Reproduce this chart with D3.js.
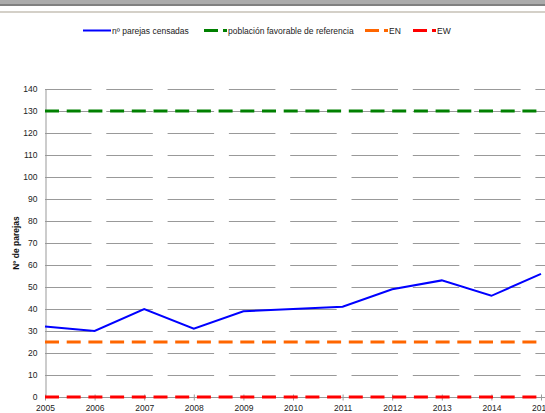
<!DOCTYPE html>
<html>
<head>
<meta charset="utf-8">
<script src="https://cdn.jsdelivr.net/npm/d3@7"></script>
<style>
  body { margin: 0; background: #fff; }
  svg { display: block; font-family: "Liberation Sans", Arial, sans-serif; }
</style>
</head>
<body>
<svg id="chart" width="545" height="413"></svg>
<script>
const years = [2005, 2006, 2007, 2008, 2009, 2010, 2011, 2012, 2013, 2014, 2015];
const parejas = [32, 30, 40, 31, 39, 40, 41, 49, 53, 46, 56];
const refLevels = [
  { name: 'población favorable de referencia', value: 130, color: '#008000' },
  { name: 'EN', value: 25, color: '#ff6600' },
  { name: 'EW', value: 0, color: '#ff0000' }
];
const yTicks = d3.range(0, 141, 10);

const svg = d3.select('#chart');
const width = 545;

// window chrome strip at the top
svg.append('rect').attr('x', 0).attr('y', 0).attr('width', width).attr('height', 4).attr('fill', '#ababab');
svg.append('rect').attr('x', 0).attr('y', 4).attr('width', width).attr('height', 2).attr('fill', '#808080');
svg.append('rect').attr('x', 0).attr('y', 11).attr('width', width).attr('height', 2).attr('fill', '#d4d0c8');

const x = d3.scaleLinear().domain([2005, 2015]).range([45, 541]);
const y = d3.scaleLinear().domain([0, 140]).range([397, 89]);

// gridlines
svg.append('g')
  .selectAll('line')
  .data(yTicks.filter(d => d > 0))
  .join('line')
  .attr('x1', 45)
  .attr('x2', 560)
  .attr('y1', d => y(d) + 0.5)
  .attr('y2', d => y(d) + 0.5)
  .attr('stroke', '#999')
  .attr('stroke-width', 1)
  .attr('stroke-dasharray', '46.5,14.8');

// y axis
const yAxis = svg.append('g')
  .attr('transform', 'translate(45.5,0)')
  .call(d3.axisLeft(y).tickValues(yTicks).tickSize(0).tickPadding(8));
yAxis.select('.domain').attr('stroke', '#999');
yAxis.selectAll('text').attr('font-size', '8.5px').attr('fill', '#222').attr('font-family', '"Liberation Sans", Arial, sans-serif');

// x axis
const xAxis = svg.append('g')
  .attr('transform', 'translate(0,397.5)')
  .call(d3.axisBottom(x).tickValues(years).tickFormat(d3.format('d')).tickSize(3).tickPadding(4));
xAxis.select('.domain').attr('stroke', '#999').attr('d', 'M45,0H560');
xAxis.selectAll('.tick line').attr('stroke', '#999').attr('y1', -3);
xAxis.selectAll('text').attr('font-size', '8.5px').attr('fill', '#222').attr('font-family', '"Liberation Sans", Arial, sans-serif');

// reference levels
svg.append('g')
  .selectAll('line')
  .data(refLevels)
  .join('line')
  .attr('x1', x(2005))
  .attr('x2', x(2015))
  .attr('y1', d => y(d.value))
  .attr('y2', d => y(d.value))
  .attr('stroke', d => d.color)
  .attr('stroke-width', 3)
  .attr('stroke-dasharray', '14,7.7');

// censused pairs
const line = d3.line().x((d, i) => x(years[i])).y(d => y(d));
svg.append('path')
  .datum(parejas)
  .attr('d', line)
  .attr('fill', 'none')
  .attr('stroke', '#0000ff')
  .attr('stroke-width', 2);

// y title
svg.append('text')
  .attr('transform', `translate(19,${(y(0) + y(140)) / 2}) rotate(-90)`)
  .attr('text-anchor', 'middle')
  .attr('font-size', '8.5px')
  .attr('font-weight', 'bold')
  .attr('fill', '#111')
  .text('Nº de parejas');

// legend
const legend = svg.append('g').attr('font-size', '8.5px').attr('fill', '#222');
legend.append('line').attr('x1', 83).attr('x2', 111).attr('y1', 30.5).attr('y2', 30.5)
  .attr('stroke', '#0000ff').attr('stroke-width', 2);
legend.append('text').attr('x', 112).attr('y', 33.5).text('nº parejas censadas');

const legendX = [204, 365, 413];
refLevels.forEach((d, i) => {
  const lx = legendX[i];
  legend.append('rect').attr('x', lx).attr('y', 29).attr('width', 14).attr('height', 3).attr('fill', d.color);
  legend.append('rect').attr('x', lx + 19).attr('y', 29).attr('width', 4).attr('height', 3).attr('fill', d.color);
  legend.append('text').attr('x', lx + 24).attr('y', 33.5).text(d.name);
});
</script>
</body>
</html>
